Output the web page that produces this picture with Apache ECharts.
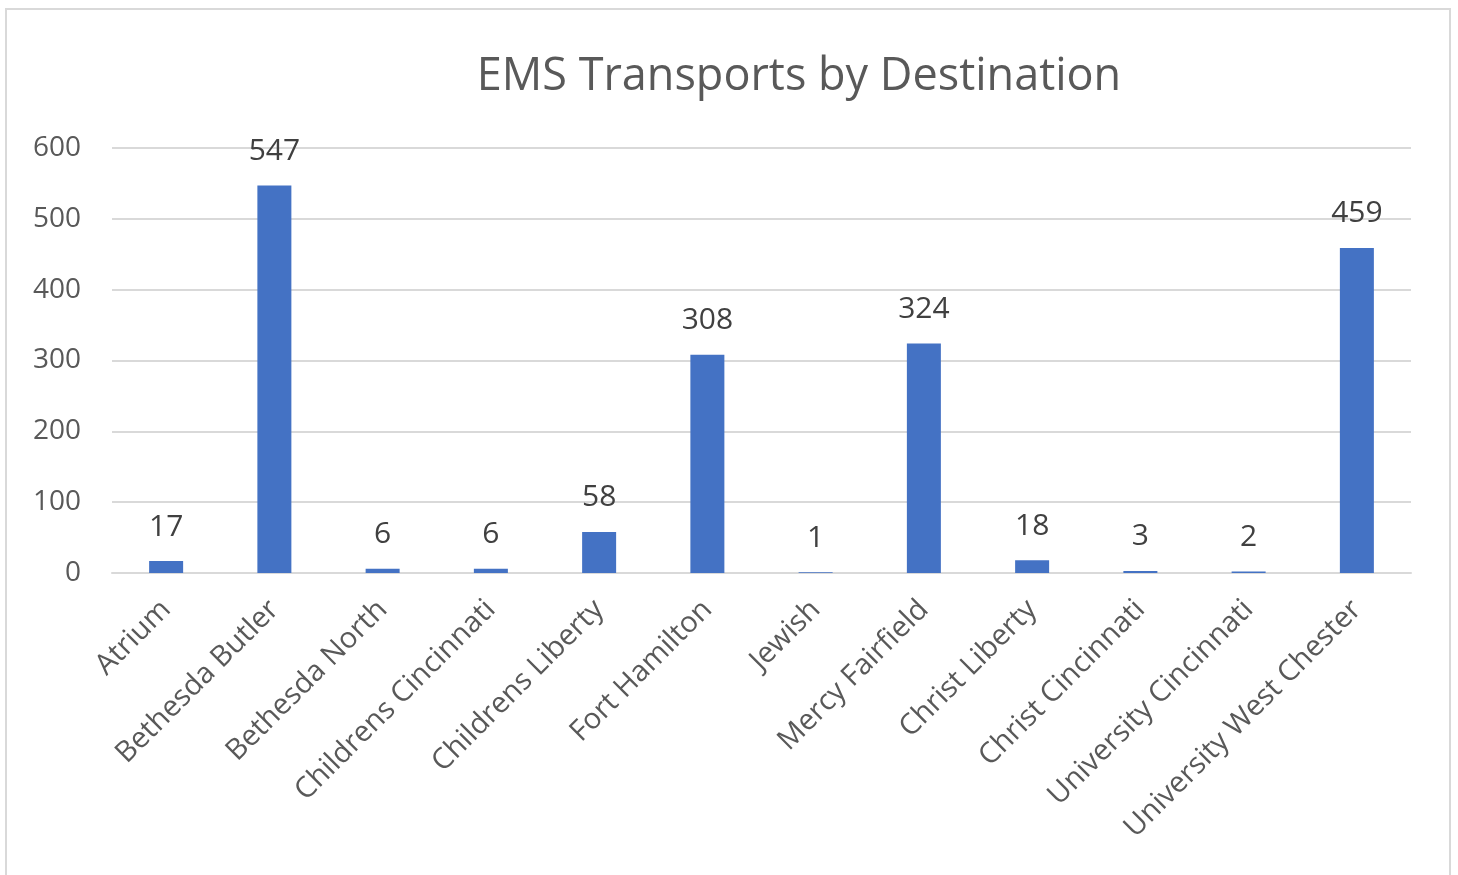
<!DOCTYPE html>
<html><head><meta charset="utf-8">
<script src="https://cdn.jsdelivr.net/npm/echarts@6/dist/echarts.min.js"></script>
<style>
html,body{margin:0;padding:0;background:#fff;width:1458px;height:875px;overflow:hidden;}
#frame{position:absolute;left:5px;top:8px;width:1446px;height:900px;border:2px solid #d9d9d9;box-sizing:border-box;}
#chart{position:absolute;left:0;top:0;width:1458px;height:875px;}
</style></head>
<body>
<div id="frame"></div>
<div id="chart"></div>
<script>
const categories = ["Atrium","Bethesda Butler","Bethesda North","Childrens Cincinnati","Childrens Liberty","Fort Hamilton","Jewish","Mercy Fairfield","Christ Liberty","Christ Cincinnati","University Cincinnati","University West Chester"];
const transports = [17,547,6,6,58,308,1,324,18,3,2,459];
const yTicks = [0,100,200,300,400,500,600];

const chart = echarts.init(document.getElementById('chart'));
const font = '"Open Sans", "Noto Sans", sans-serif';
chart.setOption({
  animation:false,
  title:{text:'EMS Transports by Destination',left:794,textAlign:'center',top:50,
    textStyle:{fontFamily:font,fontSize:45,fontWeight:'normal',color:'#595959'}},
  grid:{left:112,right:47,top:148,bottom:302,containLabel:false},
  xAxis:{type:'category',data:categories,
    axisLine:{lineStyle:{color:'#d9d9d9',width:2}},
    axisTick:{show:false},
    axisLabel:{rotate:45,interval:0,margin:32,fontFamily:font,fontSize:29,color:'#595959'}},
  yAxis:{type:'value',min:yTicks[0],max:yTicks[yTicks.length-1],interval:100,
    axisLine:{show:false},axisTick:{show:false},
    splitLine:{lineStyle:{color:'#d9d9d9',width:2}},
    axisLabel:{margin:31,fontFamily:font,fontSize:28,color:'#595959'}},
  series:[{type:'bar',data:transports,barWidth:34,
    itemStyle:{color:'#4472C4'},
    label:{show:true,position:'top',distance:19,fontFamily:font,fontSize:30,color:'#404040'}}]
});
</script>
</body></html>
